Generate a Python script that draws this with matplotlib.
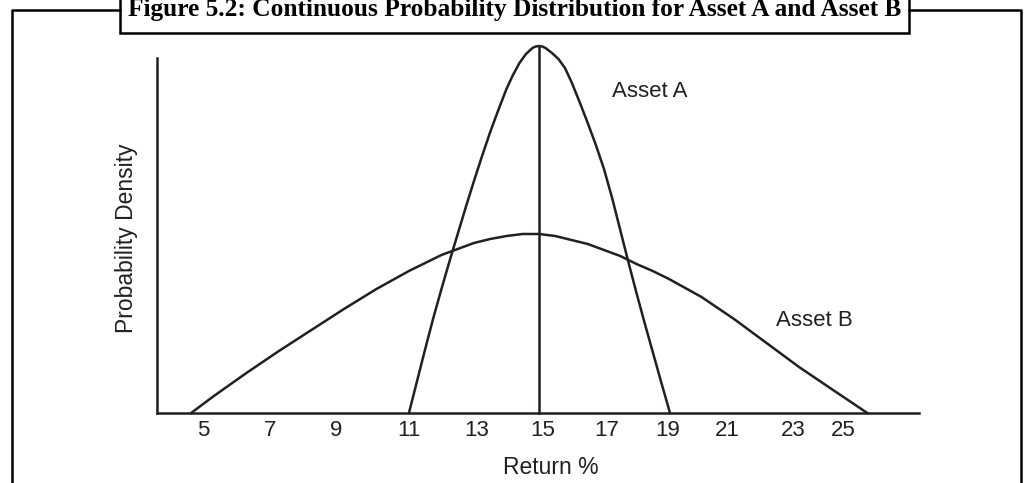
import matplotlib
matplotlib.use("Agg")
from matplotlib import pyplot as plt
from matplotlib.lines import Line2D
from matplotlib.patches import Rectangle

# %% data
asset_a_x = [11.0, 11.25, 11.5, 11.75, 12.0, 12.25, 12.5, 12.75, 13.0, 13.25, 13.5, 13.75,
             14.0, 14.2, 14.4, 14.6, 14.8, 14.9, 15.0, 15.1, 15.2, 15.4, 15.6, 15.8, 16.0, 16.25,
             16.5, 16.75, 17.0, 17.25, 17.5, 17.75, 18.0, 18.25, 18.5, 18.75, 19.03]
asset_a_y = [0.0, 0.032, 0.064, 0.095, 0.124, 0.152, 0.179, 0.206, 0.232, 0.257, 0.281, 0.303,
             0.324, 0.338, 0.350, 0.359, 0.365, 0.3665, 0.367, 0.3665, 0.365, 0.360, 0.354,
             0.345, 0.331, 0.311, 0.290, 0.268, 0.244, 0.215, 0.183, 0.151, 0.12, 0.09,
             0.061, 0.032, 0.0]

asset_b_x = [4.3, 5, 6, 7, 8, 9, 10, 11, 11.5, 12, 12.5, 13, 13.5, 14, 14.5, 15,
             15.5, 16, 16.5, 17, 17.5, 18, 18.5, 19, 19.5, 20, 20.5, 21, 22, 23, 24, 25.1]
asset_b_y = [0.0, 0.017, 0.04, 0.062, 0.083, 0.104, 0.124, 0.142, 0.150, 0.158, 0.164, 0.170,
             0.174, 0.177, 0.179, 0.179, 0.177, 0.173, 0.169, 0.163, 0.157, 0.149, 0.142,
             0.134, 0.125, 0.116, 0.105, 0.094, 0.07, 0.046, 0.024, 0.0]

mean_return = 15
tick_pos = [4.66, 6.72, 8.75, 11.0, 13.09, 15.12, 17.09, 18.97, 20.78, 22.82, 24.35]
tick_labels = ["5", "7", "9", "11", "13", "15", "17", "19", "21", "23", "25"]

title = "Figure 5.2: Continuous Probability Distribution for Asset A and Asset B"
ink = "#231f20"

# %%
W, H = 1026, 483
fig = plt.figure(figsize=(W / 100, H / 100), dpi=100)
ax = fig.add_axes([157 / W, (H - 413) / H, (919 - 157) / W, (413 - 58) / H])

ax.plot(asset_a_x, asset_a_y, color=ink, lw=1.8, clip_on=False, solid_joinstyle="round")
ax.plot(asset_b_x, asset_b_y, color=ink, lw=1.8, clip_on=False, solid_joinstyle="round")
ax.plot([mean_return, mean_return], [0, max(asset_a_y)], color=ink, lw=1.8, clip_on=False)

ax.set_xlim(3.25, 26.69)
ax.set_ylim(0, 0.355)

for side in ["top", "right"]:
    ax.spines[side].set_visible(False)
for side in ["left", "bottom"]:
    ax.spines[side].set_linewidth(1.8)
    ax.spines[side].set_color(ink)

ax.set_xticks(tick_pos, labels=tick_labels)
ax.set_yticks([])
ax.tick_params(axis="x", length=0, pad=5, labelsize=16, labelcolor=ink)
for lab in ax.get_xticklabels():
    lab.set_family("Liberation Sans")

ax.set_xlabel("Return %", fontsize=16.5, family="Liberation Sans", color=ink)
ax.xaxis.set_label_coords((551 - 157) / 762, -(467 - 413) / 355)
ax.xaxis.label.set_va("center")
ax.set_ylabel("Probability Density", fontsize=16.5, family="Liberation Sans", color=ink)
ax.yaxis.set_label_coords((127 - 157) / 762, (413 - 238.5) / 355)
ax.yaxis.label.set_va("center")

ax.text(17.25, 0.321, "Asset A", fontsize=16, family="Liberation Sans", color=ink,
        ha="left", va="center")
ax.text(22.29, 0.092, "Asset B", fontsize=16, family="Liberation Sans", color=ink,
        ha="left", va="center")

# %% frame and title tab (pixel coordinates, y from top)
def px(x, y):
    return x / W, 1 - y / H

frame = [[(12, 483), (12, 10), (120, 10)],
         [(909, 10), (1021, 10), (1021, 483)]]
for seg in frame:
    xs, ys = zip(*[px(*p) for p in seg])
    fig.add_artist(Line2D(xs, ys, color="black", lw=1.8, transform=fig.transFigure))

x0, y0 = px(120, 33)
x1, y1 = px(909, -10)
fig.add_artist(Rectangle((x0, y0), x1 - x0, y1 - y0, transform=fig.transFigure,
                         facecolor="white", edgecolor="black", lw=1.8))
fig.text((127 + 903) / 2 / W, 1 - 16 / H, title, ha="center", va="baseline",
         fontsize=18.3, fontweight="bold", family="Liberation Serif", color="black")

plt.savefig("out.png", dpi=100)
